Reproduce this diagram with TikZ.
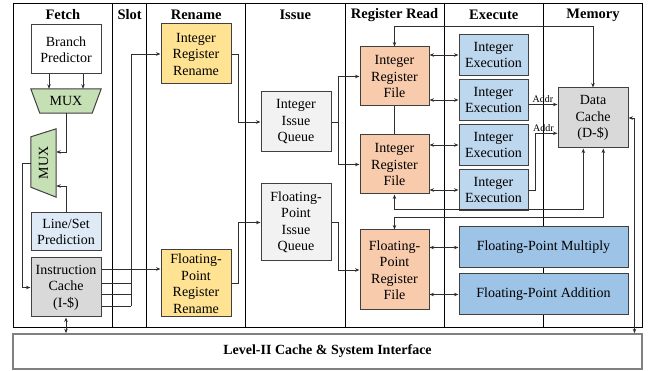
\documentclass[tikz,border=0pt]{standalone}
\usepackage{fontspec}
\setmainfont{Liberation Serif}
\usetikzlibrary{arrows.meta, positioning}
\definecolor{muxgreen}{HTML}{C5E0B4}
\definecolor{lspblue}{HTML}{DEEBF7}
\definecolor{cachegray}{HTML}{D9D9D9}
\definecolor{renameyellow}{HTML}{FFE393}
\definecolor{issuegray}{HTML}{F2F2F2}
\definecolor{rfsalmon}{HTML}{F8CBAD}
\definecolor{intblue}{HTML}{BDD7EE}
\definecolor{fpblue}{HTML}{9DC3E6}
\tikzset{
    block/.style={rectangle, draw=black!75, line width=1pt, align=center, inner sep=0pt, minimum width=70pt, font=\fontsize{14}{16.5}\selectfont},
    muxbox/.style={rectangle, inner sep=0pt},
    muxshape/.style={draw=black!75, line width=1pt, fill=muxgreen},
    muxlabel/.style={font=\fontsize{14}{16}\selectfont, inner sep=0pt},
    head/.style={font=\fontsize{14.5}{16}\selectfont\bfseries},
    frame/.style={draw=black, line width=0.8pt},
    wire/.style={draw=black!82, line width=0.9pt},
    arrow/.style={wire, -{Stealth[length=4.5pt, width=3.5pt]}},
    both/.style={wire, {Stealth[length=4.5pt, width=3.5pt]}-{Stealth[length=4.5pt, width=3.5pt]}},
    addr/.style={font=\fontsize{10}{11}\selectfont, inner sep=1pt}
}
\begin{document}
\begin{tikzpicture}[x=1pt, y=-1pt]
    \useasboundingbox (0,0) rectangle (649,371);

    % Pipeline frame and stage columns
    \draw[frame] (13,3) rectangle (642,327);
    \foreach \x in {112.7, 146.7, 245.7, 345, 444.3, 543.3}
        \draw[frame] (\x,3) -- (\x,327);
    \foreach \x/\t [count=\i] in {62.9/Fetch, 129.7/Slot, 196.2/Rename, 295.3/Issue, 394.6/Register Read, 493.8/Execute, 593/Memory}
        \node[head] (head\i) at (\x,15) {\t};

    % Bus coordinates
    \coordinate (slotbus) at (131,306.5);
    \coordinate (renbus) at (238,0);
    \coordinate (issbus) at (338,0);
    \coordinate (topbus) at (0,26);
    \coordinate (lobus1) at (0,209.3);
    \coordinate (lobus2) at (0,217.3);
    \coordinate (membus) at (634.5,0);

    % Fetch
    \node[block, fill=white, minimum height=49pt] (bp) at (66,49.5) {Branch\\Predictor};
    \node[muxbox, minimum width=70pt, minimum height=24pt] (mux1) at (66,101) {};
    \draw[muxshape] (mux1.north west) -- (mux1.north east) -- ([xshift=-9pt]mux1.south east) -- ([xshift=9pt]mux1.south west) -- cycle;
    \node[muxlabel] (mux1txt) at (mux1.center) {MUX};
    \node[muxbox, minimum width=25pt, minimum height=68pt] (mux2) at (43.5,163) {};
    \draw[muxshape] (mux2.north east) -- (mux2.south east) -- ([yshift=10pt]mux2.south west) -- ([yshift=-8pt]mux2.north west) -- cycle;
    \node[muxlabel, rotate=90] (mux2txt) at (mux2.center) {MUX};
    \node[block, fill=lspblue, minimum height=38pt] (lsp) at (66,232) {Line/Set\\Prediction};
    \node[block, fill=cachegray, minimum height=59pt] (icache) at (66,287.5) {Instruction\\Cache\\(I-\$)};

    % Rename and Issue
    \node[block, fill=renameyellow, minimum height=60pt] (irr) at (196,54) {Integer\\Register\\Rename};
    \node[block, fill=renameyellow, minimum height=67pt] (fprr) at (196,283.5) {Floating-\\Point\\Register\\Rename};
    \node[block, fill=issuegray, minimum height=60pt] (iiq) at (296,122) {Integer\\Issue\\Queue};
    \node[block, fill=issuegray, minimum height=77pt] (fpiq) at (296,222.5) {Floating-\\Point\\Issue\\Queue};

    % Register Read
    \node[block, fill=rfsalmon, minimum width=69pt, minimum height=59pt] (irf1) at (394.5,76.5) {Integer\\Register\\File};
    \node[block, fill=rfsalmon, minimum width=69pt, minimum height=59pt, below=28pt of irf1] (irf2) {Integer\\Register\\File};
    \node[block, fill=rfsalmon, minimum width=69pt, minimum height=80pt] (fprf) at (394.5,270) {Floating-\\Point\\Register\\File};

    % Execute
    \node[block, fill=intblue, minimum width=69pt, minimum height=41.5pt] (ie1) at (493.5,55) {Integer\\Execution};
    \node[block, fill=intblue, minimum width=69pt, minimum height=41.5pt, below=2.5pt of ie1] (ie2) {Integer\\Execution};
    \node[block, fill=intblue, minimum width=69pt, minimum height=41.5pt, below=2.5pt of ie2] (ie3) {Integer\\Execution};
    \node[block, fill=intblue, minimum width=69pt, minimum height=41.5pt, below=2.5pt of ie3] (ie4) {Integer\\Execution};
    \node[block, fill=fpblue, minimum width=169pt, minimum height=41pt] (fpm) at (543.5,247.5) {Floating-Point Multiply};
    \node[block, fill=fpblue, minimum width=169pt, minimum height=41pt, below=5pt of fpm] (fpa) {Floating-Point Addition};

    % Memory
    \node[block, fill=cachegray, minimum height=60pt] (dc) at (593,118) {Data\\Cache\\(D-\$)};
    \node[block, draw=black!50, line width=1.6pt, fill=white, minimum width=629pt, minimum height=35pt, font=\fontsize{14}{16}\selectfont\bfseries] (l2) at (327.5,351.5) {Level-II Cache \& System Interface};

    % Fetch wiring
    \draw[arrow] ([xshift=-17pt]bp.south) -- ([xshift=-17pt]bp.south |- mux1.north);
    \draw[arrow] ([xshift=17pt]bp.south) -- ([xshift=17pt]bp.south |- mux1.north);
    \draw[arrow] (mux1.south) |- ([yshift=11pt]mux2.east);
    \draw[arrow] (lsp.north) |- ([yshift=-23pt]mux2.east);
    \draw[arrow] (mux2.west) -| ([xshift=-8pt]icache.west) -- (icache.west);
    \draw[both] (icache.south) -- (icache.south |- l2.north);

    % Slot wiring
    \draw[arrow] ([yshift=18.5pt]icache.east) -- ([yshift=18.5pt]icache.east -| fprr.west);
    \foreach \s in {4.5, -7, -19}
        \draw[wire] ([yshift=\s pt]icache.east) -- ([yshift=\s pt]icache.east -| slotbus);
    \draw[arrow] (slotbus) |- (irr.west);

    % Rename to Issue to Register Read
    \draw[arrow] (irr.east) -| (renbus |- iiq.west) -- (iiq.west);
    \draw[arrow] (fprr.east) -| (renbus |- fpiq.west) -- (fpiq.west);
    \draw[arrow] (iiq.east) -| (issbus |- irf1.west) -- (irf1.west);
    \draw[arrow] (iiq.east) -| (issbus |- irf2.west) -- (irf2.west);
    \draw[arrow] (fpiq.east) -| (issbus |- fprf.west) -- (fprf.west);
    \draw[wire] (irf1.south) -- (irf2.north);

    % Register files to execution units
    \draw[both] (irf1.east |- ie1.west) -- (ie1.west);
    \draw[both] (irf1.east |- ie2.west) -- (ie2.west);
    \draw[both] (irf2.east |- ie3.west) -- (ie3.west);
    \draw[both] (irf2.east |- ie4.west) -- (ie4.west);
    \draw[both] (fprf.east |- fpm.west) -- (fpm.west);
    \draw[both] (fprf.east |- fpa.west) -- (fpa.west);

    % Data cache paths
    \draw[arrow] ([yshift=-4.5pt]ie2.east) -- node[addr, above] {Addr} ([yshift=-4.5pt]ie2.east -| dc.west);
    \draw[arrow] (ie4.east) -| ([xshift=-22pt, yshift=-15.3pt]dc.west) -- node[addr, above, pos=0.36] {Addr} ([yshift=-15.3pt]dc.west);
    \draw[both] (irf1.north) |- (topbus -| dc.north) -- (dc.north);
    \draw[both] (irf2.south) |- ([xshift=-9.7pt]dc.south |- lobus1) -- ([xshift=-9.7pt]dc.south);
    \draw[both] (fprf.north) |- ([xshift=10.3pt]dc.south |- lobus2) -- ([xshift=10.3pt]dc.south);
    \draw[both] (dc.east) -| (membus |- l2.north);

\end{tikzpicture}
\end{document}
